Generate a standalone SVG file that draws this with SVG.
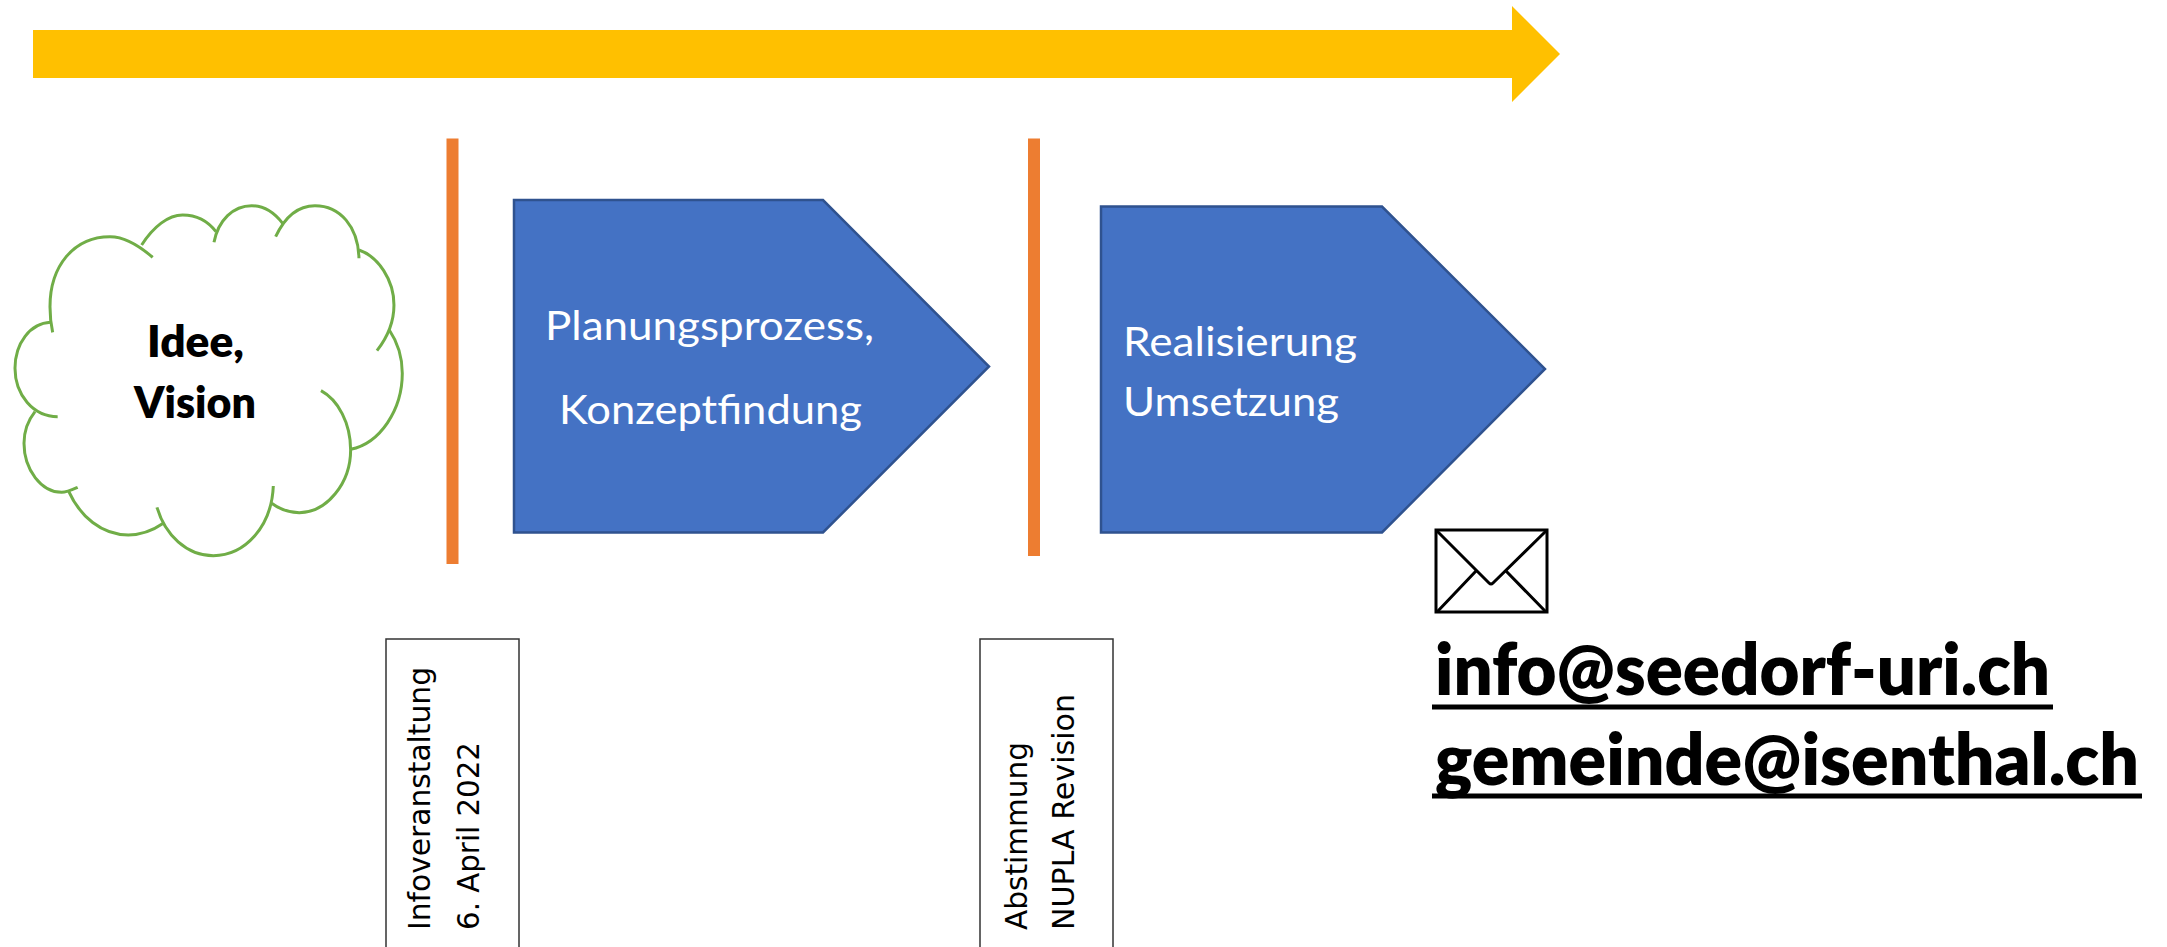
<svg xmlns="http://www.w3.org/2000/svg" width="2167" height="947" viewBox="0 0 2167 947">
<style>
.t{font-family:"Lato","Liberation Sans",sans-serif}
.w{fill:#fff;font-size:41px}
.b{fill:#000;font-weight:800}
.r{fill:#000;font-family:"DejaVu Sans",sans-serif;font-size:30px}
.p{fill:#4472c4;stroke:#2f528f;stroke-width:2.5}
.o{fill:#ed7d31}
.box{fill:#fff;stroke:#333;stroke-width:1.5}
.u{fill:#000}
</style>
<rect width="2167" height="947" fill="#fff"/>
<g id="timeline-arrow"><polygon points="33,30 1512,30 1512,6 1560,54 1512,102 1512,78 33,78" fill="#ffc000"/></g>
<g id="cloud">
<g transform="translate(0,180) scale(0.3333)" fill="none" stroke="#70ad47" stroke-width="9">
<path d="M458 232C410 190 370 170 330 170C220 170 150 260 150 380C150 400 152 430 158 457"/>
<path d="M425 195C460 140 505 105 548 105C590 105 625 125 648 155"/>
<path d="M642 187C655 120 700 77 755 77C795 77 825 100 848 130"/>
<path d="M827 170C855 110 895 77 945 77C1020 77 1075 140 1077 235"/>
<path d="M1077 210C1135 230 1182 300 1182 375C1182 430 1160 475 1131 512"/>
<path d="M1168 450C1195 490 1207 535 1207 580C1207 690 1140 790 1052 808"/>
<path d="M963 632C1015 660 1052 730 1052 810C1052 910 980 998 898 998C868 998 840 988 815 970"/>
<path d="M820 918C815 1040 735 1127 640 1127C560 1127 495 1065 471 982"/>
<path d="M490 1030C458 1052 420 1065 385 1065C305 1065 240 1010 205 932"/>
<path d="M233 922C215 930 200 937 185 937C125 937 72 870 72 790C72 755 85 720 105 695"/>
<path d="M173 710C100 710 45 645 45 565C45 490 90 430 152 427"/>
</g>
<text class="t b" x="147" y="357" font-size="44" textLength="97" lengthAdjust="spacingAndGlyphs">Idee,</text>
<text class="t b" x="134" y="418" font-size="44" textLength="122" lengthAdjust="spacingAndGlyphs">Vision</text>
</g>
<g id="bar-1"><rect class="o" x="446.500" y="138.500" width="12" height="425.500"/></g>
<g id="process-1"><polygon class="p" points="514,200 823,200 989,366.500 823,532.500 514,532.500"/>
<text class="t w" x="545" y="340" textLength="329" lengthAdjust="spacingAndGlyphs">Planungsprozess,</text>
<text class="t w" x="559" y="424" textLength="303" lengthAdjust="spacingAndGlyphs">Konzeptfindung</text></g>
<g id="bar-2"><rect class="o" x="1028" y="138.500" width="12" height="417.500"/></g>
<g id="process-2"><polygon class="p" points="1101,206.500 1382,206.500 1545,369 1382,532.500 1101,532.500"/>
<text class="t w" x="1123" y="356" textLength="234" lengthAdjust="spacingAndGlyphs">Realisierung</text>
<text class="t w" x="1123" y="416" textLength="216" lengthAdjust="spacingAndGlyphs">Umsetzung</text></g>
<g id="label-1"><rect class="box" x="386" y="639" width="133" height="320"/>
<text class="r" transform="translate(430,930) rotate(-90)" textLength="263" lengthAdjust="spacingAndGlyphs">Infoveranstaltung</text>
<text class="r" transform="translate(479,930) rotate(-90)" textLength="188" lengthAdjust="spacingAndGlyphs">6. April 2022</text></g>
<g id="label-2"><rect class="box" x="980" y="639" width="133" height="320"/>
<text class="r" transform="translate(1027,930) rotate(-90)" textLength="188" lengthAdjust="spacingAndGlyphs">Abstimmung</text>
<text class="r" transform="translate(1074,930) rotate(-90)" textLength="236" lengthAdjust="spacingAndGlyphs">NUPLA Revision</text></g>
<g id="envelope" fill="none" stroke="#000" stroke-width="3">
<rect x="1436" y="530" width="111" height="82"/>
<path d="M1437 531L1489 583Q1491 585 1493 583L1546 531M1476 571L1437 612M1506 571L1546 612"/>
</g>
<g id="emails">
<text class="t b" x="1435" y="695" font-size="72" font-weight="900" textLength="615" lengthAdjust="spacingAndGlyphs">info@seedorf-uri.ch</text>
<rect class="u" x="1432" y="704.500" width="621" height="5"/>
<text class="t b" x="1435" y="785" font-size="72" font-weight="900" textLength="704" lengthAdjust="spacingAndGlyphs">gemeinde@isenthal.ch</text>
<rect class="u" x="1432" y="793.500" width="710" height="5"/>
</g>
<g id="connectors"/>
</svg>
